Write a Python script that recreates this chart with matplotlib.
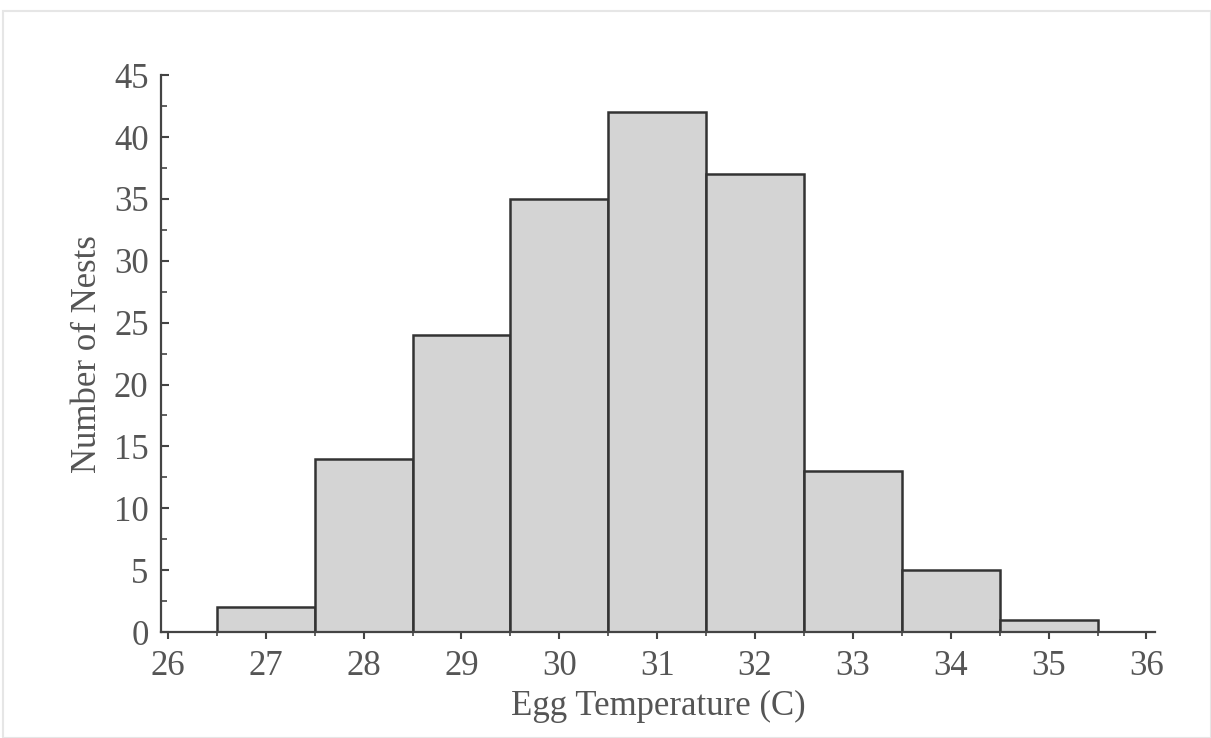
import numpy as np
import matplotlib
matplotlib.use('Agg')
import matplotlib.pyplot as plt
from matplotlib.patches import Rectangle
from matplotlib.ticker import MultipleLocator

# histogram data
temps = [27, 28, 29, 30, 31, 32, 33, 34, 35]
nests = [2, 14, 24, 35, 42, 37, 13, 5, 1]

plt.rcParams['font.family'] = ['Liberation Serif', 'DejaVu Serif']
text_col = '#555555'

fig = plt.figure(figsize=(12.11, 7.38), dpi=100)
ax = fig.add_axes([0.133, 0.1436, 0.821, 0.7546])

ax.bar(temps, nests, width=1.0, color='#d4d4d4', edgecolor='#333333',
       linewidth=1.8, zorder=2)

ax.set_xlim(25.93, 36.09)
ax.set_ylim(0, 45)
ax.xaxis.set_major_locator(MultipleLocator(1))
ax.xaxis.set_minor_locator(MultipleLocator(0.5))
ax.yaxis.set_major_locator(MultipleLocator(5))
ax.yaxis.set_minor_locator(MultipleLocator(2.5))

for s in ['top', 'right']:
    ax.spines[s].set_visible(False)
for s in ['left', 'bottom']:
    ax.spines[s].set_linewidth(1.6)
    ax.spines[s].set_color('#444444')

ax.tick_params(axis='y', which='major', direction='in', length=6, width=1.5,
               color='#444444', labelsize=25, labelcolor=text_col, pad=9)
ax.tick_params(axis='y', which='minor', direction='in', length=4, width=1.2,
               color='#444444')
ax.tick_params(axis='x', which='major', direction='out', length=5, width=1.5,
               color='#444444', labelsize=25, labelcolor=text_col, pad=8)
ax.tick_params(axis='x', which='minor', direction='out', length=3, width=1.2,
               color='#444444')

ax.set_xlabel('Egg Temperature (C)', fontsize=25, color=text_col, labelpad=5)
ax.set_ylabel('Number of Nests', fontsize=25, color=text_col, labelpad=7)

# faint frame round the figure
fig.patches.append(Rectangle((3 / 1211, 0), 1 - 3 / 1211, 1 - 11 / 738,
                             transform=fig.transFigure, fill=False,
                             edgecolor='#e6e6e6', linewidth=1.5))

fig.savefig('out.png', dpi=100)
